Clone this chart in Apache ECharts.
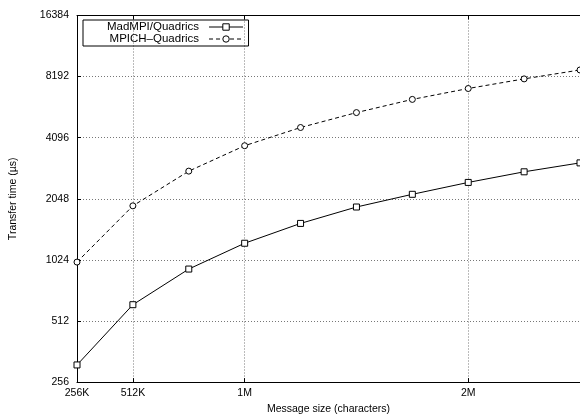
<!DOCTYPE html>
<html>
<head>
<meta charset="utf-8">
<script src="https://cdn.jsdelivr.net/npm/echarts@6/dist/echarts.min.js"></script>
<style>
html,body{margin:0;padding:0;background:#fff;}
#chart{width:580px;height:420px;}
</style>
</head>
<body>
<div id="chart"></div>
<script>
// Message sizes in K characters
var sizes = [256, 512, 768, 1024, 1280, 1536, 1792, 2048, 2304, 2560];
// Transfer time (µs)
var madmpi = [311, 616, 923, 1237, 1549, 1866, 2155, 2466, 2782, 3078];
var mpich  = [999, 1891, 2803, 3740, 4598, 5446, 6325, 7157, 7983, 8833];
var seriesNames = ['MadMPI/Quadrics', 'MPICH–Quadrics'];
var xTickValues = [256, 512, 1024, 2048];
var xTickLabels = ['256K', '512K', '1M', '2M'];
var yTickValues = [256, 512, 1024, 2048, 4096, 8192, 16384];

function pairs(ys) { return sizes.map(function (s, i) { return [s, ys[i]]; }); }

var font = 'Liberation Sans, Arial, Helvetica, sans-serif';
var chart = echarts.init(document.getElementById('chart'));
chart.setOption({
  animation: false,
  backgroundColor: '#fff',
  grid: { left: 77, top: 15.5, bottom: 35, right: -1, containLabel: false },
  legend: {
    left: 83, top: 20, orient: 'vertical', align: 'right',
    itemWidth: 34, itemHeight: 8, itemGap: 0,
    padding: [1, 5, 1, 24],
    borderColor: '#000', borderWidth: 1,
    lineStyle: { width: 1 },
    itemStyle: { borderWidth: 1 },
    textStyle: { fontFamily: font, fontSize: 11.5, lineHeight: 11, color: '#000', padding: [0, 5, 0, 0] },
    data: seriesNames
  },
  xAxis: [{
    type: 'value', min: 256, max: 2560,
    name: 'Message size (characters)', nameLocation: 'middle', nameGap: 21,
    nameTextStyle: { fontFamily: font, fontSize: 10.5, color: '#000' },
    axisLine: { show: true, onZero: false, lineStyle: { color: '#000', width: 1 } },
    axisTick: { show: true, inside: true, length: 4, customValues: xTickValues, lineStyle: { color: '#000' } },
    axisLabel: {
      customValues: xTickValues, margin: 6,
      fontFamily: font, fontSize: 10.5, color: '#000',
      formatter: function (v) { var i = xTickValues.indexOf(v); return i >= 0 ? xTickLabels[i] : ''; }
    },
    splitLine: { show: true, lineStyle: { color: '#777', type: [1, 2], width: 1 } }
  }, {
    type: 'value', min: 256, max: 2560, position: 'top',
    axisLine: { show: true, onZero: false, lineStyle: { color: '#000', width: 1 } },
    axisTick: { show: true, inside: true, length: 4, customValues: xTickValues, lineStyle: { color: '#000' } },
    axisLabel: { show: false },
    splitLine: { show: false }
  }],
  yAxis: {
    type: 'log', logBase: 2, min: 256, max: 16384, interval: 1,
    name: 'Transfer time (µs)', nameLocation: 'middle', nameGap: 58,
    nameTextStyle: { fontFamily: font, fontSize: 10.5, color: '#000' },
    axisLine: { show: true, onZero: false, lineStyle: { color: '#000', width: 1 } },
    axisTick: { show: true, inside: true, length: 4, customValues: yTickValues, lineStyle: { color: '#000' } },
    axisLabel: {
      customValues: yTickValues, margin: 8, fontFamily: font, fontSize: 10.5, color: '#000',
      formatter: function (v) { return String(Math.round(v)); }
    },
    splitLine: { show: true, lineStyle: { color: '#777', type: [1, 2], width: 1 } }
  },
  series: [{
    name: seriesNames[0], type: 'line', data: pairs(madmpi),
    symbol: 'rect', symbolSize: 6, showAllSymbol: true,
    itemStyle: { color: '#fff', borderColor: '#000', borderWidth: 1 },
    lineStyle: { color: '#000', width: 1, type: 'solid' },
    clip: false
  }, {
    name: seriesNames[1], type: 'line', data: pairs(mpich),
    symbol: 'circle', symbolSize: 6, showAllSymbol: true,
    itemStyle: { color: '#fff', borderColor: '#000', borderWidth: 1 },
    lineStyle: { color: '#000', width: 1, type: [4, 3] },
    clip: false
  }]
});
</script>
</body>
</html>
